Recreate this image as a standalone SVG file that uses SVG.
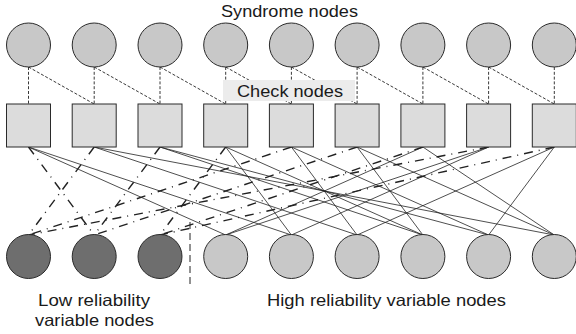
<svg xmlns="http://www.w3.org/2000/svg" width="576" height="334" viewBox="0 0 576 334">
<style>
.syn{fill:#c8c8c8;stroke:#2a2a2a;stroke-width:1}
.chk{fill:#dcdcdc;stroke:#2a2a2a;stroke-width:1}
.low{fill:#6e6e6e;stroke:#2a2a2a;stroke-width:1}
.high{fill:#c8c8c8;stroke:#2a2a2a;stroke-width:1}
.sd{stroke:#222;stroke-width:0.9;stroke-dasharray:3,1.8;fill:none}
.so{stroke:#222;stroke-width:0.8;fill:none}
.dd{stroke:#222;stroke-width:1.4;stroke-dasharray:9,6,1,6;fill:none}
.div{stroke:#222;stroke-width:1;stroke-dasharray:7,4;fill:none}
text{font-family:"Liberation Sans",Arial,sans-serif;fill:#1a1a1a;font-size:16.5px}
</style>
<rect width="576" height="334" fill="#fff"/>
<text x="221" y="17.3" textLength="137" lengthAdjust="spacingAndGlyphs">Syndrome nodes</text>
<g id="connectors">
<g id="syndrome-check">
<line class="sd" x1="28.5" y1="67" x2="28.5" y2="104"/>
<line class="sd" x1="94.2" y1="67" x2="94.2" y2="104"/>
<line class="sd" x1="160" y1="67" x2="160" y2="104"/>
<line class="sd" x1="225.7" y1="67" x2="225.7" y2="104"/>
<line class="sd" x1="291.4" y1="67" x2="291.4" y2="104"/>
<line class="sd" x1="357.1" y1="67" x2="357.1" y2="104"/>
<line class="sd" x1="422.9" y1="67" x2="422.9" y2="104"/>
<line class="sd" x1="488.6" y1="67" x2="488.6" y2="104"/>
<line class="sd" x1="554.3" y1="67" x2="554.3" y2="104"/>
<line class="sd" x1="28.5" y1="67" x2="94.2" y2="104"/>
<line class="sd" x1="94.2" y1="67" x2="160" y2="104"/>
<line class="sd" x1="160" y1="67" x2="225.7" y2="104"/>
<line class="sd" x1="225.7" y1="67" x2="291.4" y2="104"/>
<line class="sd" x1="291.4" y1="67" x2="357.1" y2="104"/>
<line class="sd" x1="357.1" y1="67" x2="422.9" y2="104"/>
<line class="sd" x1="422.9" y1="67" x2="488.6" y2="104"/>
<line class="sd" x1="488.6" y1="67" x2="554.3" y2="104"/>
</g>
<g id="low-edges">
<line class="dd" x1="28.5" y1="147" x2="94.2" y2="235"/>
<line class="dd" x1="94.2" y1="147" x2="28.5" y2="235"/>
<line class="dd" x1="160" y1="147" x2="94.2" y2="235"/>
<line class="dd" x1="225.7" y1="147" x2="160" y2="235"/>
<line class="dd" x1="291.4" y1="147" x2="28.5" y2="235"/>
<line class="dd" x1="357.1" y1="147" x2="94.2" y2="235"/>
<line class="dd" x1="422.9" y1="147" x2="160" y2="235"/>
<line class="dd" x1="488.6" y1="147" x2="28.5" y2="235"/>
<line class="dd" x1="554.3" y1="147" x2="160" y2="235"/>
</g>
<g id="high-edges">
<line class="so" x1="28.5" y1="147" x2="225.7" y2="235"/>
<line class="so" x1="28.5" y1="147" x2="291.4" y2="235"/>
<line class="so" x1="94.2" y1="147" x2="357.1" y2="235"/>
<line class="so" x1="94.2" y1="147" x2="554.3" y2="235"/>
<line class="so" x1="160" y1="147" x2="422.9" y2="235"/>
<line class="so" x1="160" y1="147" x2="488.6" y2="235"/>
<line class="so" x1="225.7" y1="147" x2="291.4" y2="235"/>
<line class="so" x1="225.7" y1="147" x2="422.9" y2="235"/>
<line class="so" x1="291.4" y1="147" x2="357.1" y2="235"/>
<line class="so" x1="291.4" y1="147" x2="488.6" y2="235"/>
<line class="so" x1="357.1" y1="147" x2="422.9" y2="235"/>
<line class="so" x1="357.1" y1="147" x2="554.3" y2="235"/>
<line class="so" x1="422.9" y1="147" x2="225.7" y2="235"/>
<line class="so" x1="422.9" y1="147" x2="554.3" y2="235"/>
<line class="so" x1="488.6" y1="147" x2="225.7" y2="235"/>
<line class="so" x1="488.6" y1="147" x2="291.4" y2="235"/>
<line class="so" x1="554.3" y1="147" x2="357.1" y2="235"/>
<line class="so" x1="554.3" y1="147" x2="488.6" y2="235"/>
</g>
<line class="div" x1="190" y1="222" x2="190" y2="286"/>
</g>
<g id="syndrome-nodes">
<circle id="s0" class="syn" cx="28.5" cy="45" r="22"/>
<circle id="s1" class="syn" cx="94.2" cy="45" r="22"/>
<circle id="s2" class="syn" cx="160" cy="45" r="22"/>
<circle id="s3" class="syn" cx="225.7" cy="45" r="22"/>
<circle id="s4" class="syn" cx="291.4" cy="45" r="22"/>
<circle id="s5" class="syn" cx="357.1" cy="45" r="22"/>
<circle id="s6" class="syn" cx="422.9" cy="45" r="22"/>
<circle id="s7" class="syn" cx="488.6" cy="45" r="22"/>
<circle id="s8" class="syn" cx="554.3" cy="45" r="22"/>
</g>
<g id="check-label">
<rect x="223" y="80" width="132" height="21" fill="#ececec"/>
<text x="237" y="96.5" style="font-size:17px" textLength="106" lengthAdjust="spacingAndGlyphs">Check nodes</text>
</g>
<g id="check-nodes">
<rect id="c0" class="chk" x="6.5" y="104" width="44" height="43"/>
<rect id="c1" class="chk" x="72.2" y="104" width="44" height="43"/>
<rect id="c2" class="chk" x="138" y="104" width="44" height="43"/>
<rect id="c3" class="chk" x="203.7" y="104" width="44" height="43"/>
<rect id="c4" class="chk" x="269.4" y="104" width="44" height="43"/>
<rect id="c5" class="chk" x="335.1" y="104" width="44" height="43"/>
<rect id="c6" class="chk" x="400.9" y="104" width="44" height="43"/>
<rect id="c7" class="chk" x="466.6" y="104" width="44" height="43"/>
<rect id="c8" class="chk" x="532.3" y="104" width="44" height="43"/>
</g>
<g id="variable-nodes">
<circle id="v0" class="low" cx="28.5" cy="256.5" r="22"/>
<circle id="v1" class="low" cx="94.2" cy="256.5" r="22"/>
<circle id="v2" class="low" cx="160" cy="256.5" r="22"/>
<circle id="v3" class="high" cx="225.7" cy="256.5" r="22"/>
<circle id="v4" class="high" cx="291.4" cy="256.5" r="22"/>
<circle id="v5" class="high" cx="357.1" cy="256.5" r="22"/>
<circle id="v6" class="high" cx="422.9" cy="256.5" r="22"/>
<circle id="v7" class="high" cx="488.6" cy="256.5" r="22"/>
<circle id="v8" class="high" cx="554.3" cy="256.5" r="22"/>
</g>
<g id="labels">
<text x="38" y="305.5" textLength="112" lengthAdjust="spacingAndGlyphs">Low reliability</text>
<text x="35" y="325.5" textLength="119" lengthAdjust="spacingAndGlyphs">variable nodes</text>
<text x="267" y="305.5" textLength="239" lengthAdjust="spacingAndGlyphs">High reliability variable nodes</text>
</g>
</svg>
